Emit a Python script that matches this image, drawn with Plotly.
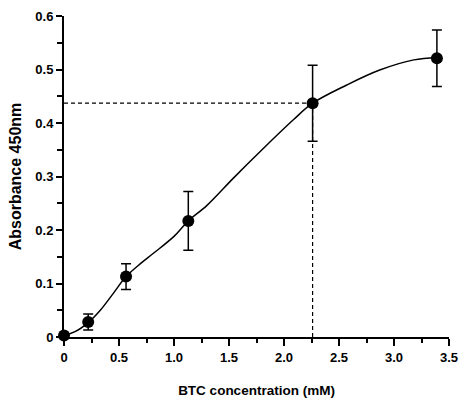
import plotly.graph_objects as go

# measured data
conc = [0, 0.22, 0.564, 1.13, 2.26, 3.39]
absorb = [0.003, 0.028, 0.113, 0.217, 0.437, 0.521]
err = [0.0, 0.015, 0.024, 0.055, 0.071, 0.053]

# fitted curve
fit_x = [0, 0.1, 0.22, 0.33, 0.45, 0.564, 0.7, 0.81, 1.0, 1.13, 1.3, 1.54, 1.8, 2.085, 2.26, 2.57, 2.87, 3.18, 3.39]
fit_y = [0.003, 0.010, 0.027, 0.050, 0.082, 0.113, 0.138, 0.156, 0.188, 0.217, 0.246, 0.297, 0.350, 0.406, 0.437, 0.471, 0.499, 0.518, 0.522]

# guide value
guide_x = 2.26
guide_y = 0.437

x_ticks = [0, 0.5, 1.0, 1.5, 2.0, 2.5, 3.0, 3.5]
x_labels = ["0", "0.5", "1.0", "1.5", "2.0", "2.5", "3.0", "3.5"]
y_ticks = [0, 0.1, 0.2, 0.3, 0.4, 0.5, 0.6]
y_labels = ["0", "0.1", "0.2", "0.3", "0.4", "0.5", "0.6"]

fig = go.Figure()
fig.add_trace(go.Scatter(x=[0, guide_x], y=[guide_y, guide_y], mode="lines",
                         line=dict(color="black", width=1.2, dash="4px,3px"),
                         hoverinfo="skip", showlegend=False, cliponaxis=False))
fig.add_trace(go.Scatter(x=[guide_x, guide_x], y=[0, guide_y], mode="lines",
                         line=dict(color="black", width=1.2, dash="4px,3px"),
                         hoverinfo="skip", showlegend=False, cliponaxis=False))
fig.add_trace(go.Scatter(x=fit_x, y=fit_y, mode="lines", line_shape="spline",
                         line=dict(color="black", width=1.5), showlegend=False,
                         cliponaxis=False))
fig.add_trace(go.Scatter(x=conc, y=absorb, mode="markers",
                         marker=dict(color="black", size=12),
                         error_y=dict(type="data", array=err, color="black",
                                      thickness=1.5, width=5),
                         showlegend=False, cliponaxis=False))

font = "Liberation Sans, Arial, sans-serif"
fig.update_layout(
    width=459, height=400,
    margin=dict(l=64, r=10, t=16, b=63),
    plot_bgcolor="white", paper_bgcolor="white",
    font=dict(family=font, color="black"),
    xaxis=dict(range=[0, 3.5], tickvals=x_ticks, ticktext=x_labels, automargin=False,
               showgrid=False, zeroline=False, showline=True, linecolor="black",
               linewidth=2, ticks="outside", ticklen=7, tickwidth=1.5, tickcolor="black",
               tickfont=dict(size=13, family=font, weight="bold"),
               minor=dict(dtick=0.25, tick0=0, ticks="outside", ticklen=4, tickwidth=1.5,
                          tickcolor="black", showgrid=False),
               title=dict(text="<b>BTC concentration (mM)</b>", font=dict(size=13.5), standoff=22)),
    yaxis=dict(range=[0, 0.6], tickvals=y_ticks, ticktext=y_labels, automargin=False,
               showgrid=False, zeroline=False, showline=True, linecolor="black",
               linewidth=2, ticks="outside", ticklen=6, tickwidth=1.5, tickcolor="black",
               tickfont=dict(size=13, family=font, weight="bold"),
               minor=dict(dtick=0.05, tick0=0, ticks="outside", ticklen=5, tickwidth=1.5,
                          tickcolor="black", showgrid=False),
               title=dict(text="<b>Absorbance 450nm</b>", font=dict(size=16), standoff=10)),
)
fig.write_html("out.html", config={"displayModeBar": False},
               post_script="document.body.style.margin='0';")
